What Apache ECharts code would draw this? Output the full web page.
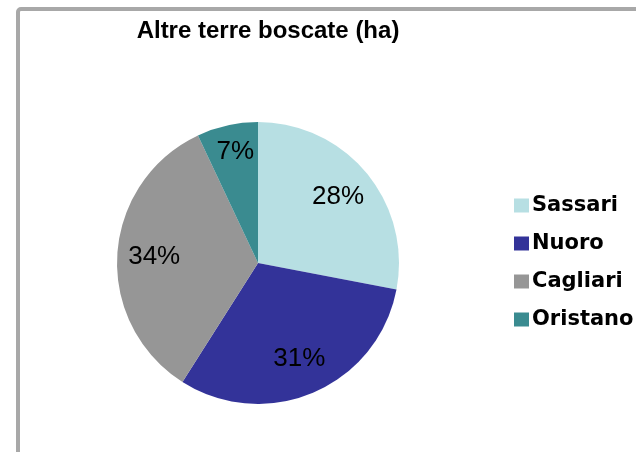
<!DOCTYPE html>
<html>
<head>
<meta charset="utf-8">
<script src="https://cdn.jsdelivr.net/npm/echarts@6/dist/echarts.min.js"></script>
<style>
  html, body { margin: 0; padding: 0; background: #fff; }
  #chart { width: 636px; height: 452px; }
</style>
</head>
<body>
<div id="chart"></div>
<script>
const titleText = "Altre terre boscate (ha)";
const provinces = ["Sassari", "Nuoro", "Cagliari", "Oristano"];
const shares = [28, 31, 34, 7];
const sliceColors = ["#b7dfe3", "#333399", "#969696", "#3a8b90"];

const pieData = provinces.map((name, i) => ({
  name,
  value: shares[i],
  itemStyle: { color: sliceColors[i] },
}));

const chart = echarts.init(document.getElementById("chart"));

chart.setOption({
  animation: false,
  title: {
    text: titleText,
    left: 263,
    top: 14,
    textAlign: "center",
    textStyle: {
      fontFamily: "Liberation Sans",
      fontWeight: "bold",
      fontSize: 24,
      color: "#000",
    },
  },
  legend: {
    orient: "vertical",
    left: 509,
    top: 190,
    data: provinces,
    icon: "rect",
    itemWidth: 15,
    itemHeight: 14,
    itemGap: 17,
    textStyle: {
      fontFamily: "DejaVu Sans",
      fontWeight: "bold",
      fontSize: 21,
      color: "#000",
      padding: [0, 0, 0, -2],
    },
  },
  graphic: [
    {
      // cornice grigia del grafico (solo lati sinistro e superiore visibili)
      type: "rect",
      silent: true,
      shape: { x: 18, y: 9, width: 700, height: 500, r: 3 },
      style: { fill: "none", stroke: "#a8a8a8", lineWidth: 4 },
    },
  ],
  series: [
    {
      name: "fette",
      type: "pie",
      center: [258, 263],
      radius: [0, 141],
      startAngle: 90,
      clockwise: true,
      silent: true,
      label: { show: false },
      labelLine: { show: false },
      data: pieData,
    },
    {
      // serie trasparente più grande: porta le etichette a circa 0.7 del raggio
      name: "etichette",
      type: "pie",
      center: [258, 263],
      radius: [0, 202],
      startAngle: 90,
      clockwise: true,
      silent: true,
      itemStyle: { color: "rgba(0,0,0,0)" },
      label: {
        show: true,
        position: "inside",
        formatter: "{d}%",
        fontFamily: "Liberation Sans",
        fontSize: 26,
        color: "#000",
      },
      labelLine: { show: false },
      // la fetta piccola ha l'etichetta più vicina al bordo
      labelLayout: (p) => (p.dataIndex === 3 ? { dy: -10 } : {}),
      data: provinces.map((name, i) => ({ name, value: shares[i] })),
    },
  ],
});
</script>
</body>
</html>
